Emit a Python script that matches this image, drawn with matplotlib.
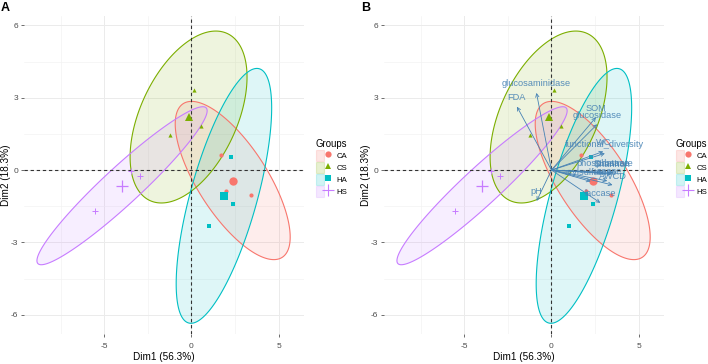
import numpy as np
import matplotlib
matplotlib.use('Agg')
import matplotlib.pyplot as plt
from matplotlib.patches import Polygon, Patch
from matplotlib.lines import Line2D
from matplotlib.legend_handler import HandlerTuple

plt.rcParams['font.family'] = ['Liberation Sans', 'DejaVu Sans']

# ---------------- data ----------------
groups = ['CA', 'CS', 'HA', 'HS']
colors = ['#F8766D', '#7CAE00', '#00BFC4', '#C77CFF']
markers = ['o', '^', 's', '+']

ca_x = [1.68, 2.00, 3.41]
ca_y = [0.62, -0.87, -1.05]
cs_x = [0.15, 0.57, -1.22]
cs_y = [3.33, 1.82, 1.45]
ha_x = [2.24, 2.36, 0.98]
ha_y = [0.55, -1.42, -2.34]
hs_x = [-5.52, -2.93, -3.49]
hs_y = [-1.70, -0.23, -0.02]

group_x = [ca_x, cs_x, ha_x, hs_x]
group_y = [ca_y, cs_y, ha_y, hs_y]

var_names = ['FDA', 'glucosaminidase', 'SOM', 'glucosidase', 'WC',
             'functional_diversity', 'phosphatase', 'Substrate', 'Shannon',
             'arylsulfatase', 'urease', 'AWCD', 'laccase', 'pH']
var_x = [-1.98, -0.86, 2.55, 2.62, 2.97, 3.06, 2.97, 3.55, 3.45,
         2.25, 3.20, 3.50, 2.80, -0.85]
var_y = [2.63, 3.20, 2.19, 1.90, 0.77, 0.69, -0.12, -0.10, -0.16,
         -0.47, -0.45, -0.62, -1.36, -1.28]

xlabel = 'Dim1 (56.3%)'
ylabel = 'Dim2 (18.3%)'
xticks = [-5, 0, 5]
yticks = [-6, -3, 0, 3, 6]
xminor = [-7.5, -2.5, 2.5]
yminor = [-4.5, -1.5, 1.5, 4.5]

ELLIPSE_R = 3.58
ARROW_COL = '#4682B4'

W, H = 708, 364
fig = plt.figure(figsize=(W / 100, H / 100), dpi=100)


def ellipse_points(x, y, r):
    x = np.asarray(x)
    y = np.asarray(y)
    cov = np.cov(x, y)
    L = np.linalg.cholesky(cov)
    t = np.linspace(0, 2 * np.pi, 240)
    circ = np.vstack([np.cos(t), np.sin(t)])
    pts = (L @ circ) * r
    return np.column_stack([pts[0] + x.mean(), pts[1] + y.mean()])


def setup_axes(left_px):
    ax = fig.add_axes([left_px / W, (H - 334) / H, 280 / W, 318 / H])
    ax.set_xlim(-9.6, 6.45)
    ax.set_ylim(-6.8, 6.39)
    for s in ax.spines.values():
        s.set_visible(False)
    ax.set_xticks(xticks)
    ax.set_yticks(yticks)
    ax.set_xticks(xminor, minor=True)
    ax.set_yticks(yminor, minor=True)
    ax.set_xticklabels([str(v) for v in xticks])
    ax.set_yticklabels([str(v) for v in yticks])
    ax.tick_params(which='major', length=2.5, width=0.6, color='#555555',
                   labelsize=6, labelcolor='#4D4D4D', pad=1.5)
    ax.tick_params(axis='x', which='major', pad=4)
    ax.tick_params(which='minor', length=0)
    ax.grid(which='major', color='#EBEBEB', lw=0.7, zorder=0)
    ax.grid(which='minor', color='#F2F2F2', lw=0.45, zorder=0)
    ax.set_axisbelow(True)
    ax.set_xlabel(xlabel, fontsize=7.2)
    ax.set_ylabel(ylabel, fontsize=7.2)
    ax.xaxis.set_label_coords(0.5, -(352 - 334) / 318)
    ax.yaxis.set_label_coords(-13 / 280, 0.5)
    return ax


def draw_groups(ax):
    for gx, gy, c in zip(group_x, group_y, colors):
        pts = ellipse_points(gx, gy, ELLIPSE_R)
        ax.add_patch(Polygon(pts, closed=True, facecolor=c, alpha=0.13,
                             edgecolor='none', zorder=2))
        ax.add_patch(Polygon(pts, closed=True, facecolor='none',
                             edgecolor=c, lw=0.8, zorder=3))
    ax.axhline(0, color='#333333', ls=(0, (3, 2.5)), lw=0.8, zorder=4)
    ax.axvline(0, color='#333333', ls=(0, (3, 2.5)), lw=0.8, zorder=4)
    for gx, gy, c, m in zip(group_x, group_y, colors, markers):
        if m == '+':
            ax.plot(gx, gy, ls='', marker=m, color=c, ms=5, mew=0.7, zorder=6)
            ax.plot(np.mean(gx), np.mean(gy), ls='', marker=m, color=c,
                    ms=9, mew=0.9, zorder=6)
        else:
            ax.plot(gx, gy, ls='', marker=m, color=c, ms=3, mew=0, zorder=6)
            ax.plot(np.mean(gx), np.mean(gy), ls='', marker=m, color=c,
                    ms=6, mew=0, zorder=6)


def add_legend(ax, x_px):
    handles = []
    for c, m in zip(colors, markers):
        p = Patch(facecolor=c, alpha=0.18, edgecolor=c, lw=0.8)
        if m == '+':
            l = Line2D([], [], ls='', marker=m, color=c, ms=8, mew=0.8)
        else:
            l = Line2D([], [], ls='', marker=m, color=c, ms=4.5, mew=0)
        handles.append((p, l))
    leg = fig.legend(handles, groups, handler_map={tuple: HandlerTuple(ndivide=None)},
                     loc='upper left', bbox_to_anchor=(x_px / W, 1 - 139 / H),
                     bbox_transform=fig.transFigure, frameon=False,
                     title='Groups', fontsize=5.6, title_fontsize=6.9,
                     handlelength=2.0, handleheight=1.85, handletextpad=0.6,
                     labelspacing=0.1, borderaxespad=0, borderpad=0)
    leg._legend_box.align = 'left'
    return leg


# ---------------- panel A ----------------
axA = setup_axes(24)
draw_groups(axA)
add_legend(axA, 316)

# ---------------- panel B ----------------
axB = setup_axes(384)
draw_groups(axB)
for name, vx, vy in zip(var_names, var_x, var_y):
    axB.annotate('', xy=(vx, vy), xytext=(0, 0),
                 arrowprops=dict(arrowstyle='->', color=ARROW_COL, lw=0.6,
                                 shrinkA=0, shrinkB=0, mutation_scale=6),
                 zorder=7)
for name, vx, vy in zip(var_names, var_x, var_y):
    axB.annotate(name, xy=(vx, vy), xytext=(0, 9), textcoords='offset pixels',
                 ha='center', va='center', color=ARROW_COL, fontsize=6.7,
                 alpha=0.9, zorder=8)
add_legend(axB, 676)

fig.text(1 / W, 1 - 8 / H, 'A', fontsize=9, fontweight='bold', va='center', ha='left')
fig.text(361 / W, 1 - 8 / H, 'B', fontsize=9, fontweight='bold', va='center', ha='left')

fig.savefig('out.png', dpi=100)
